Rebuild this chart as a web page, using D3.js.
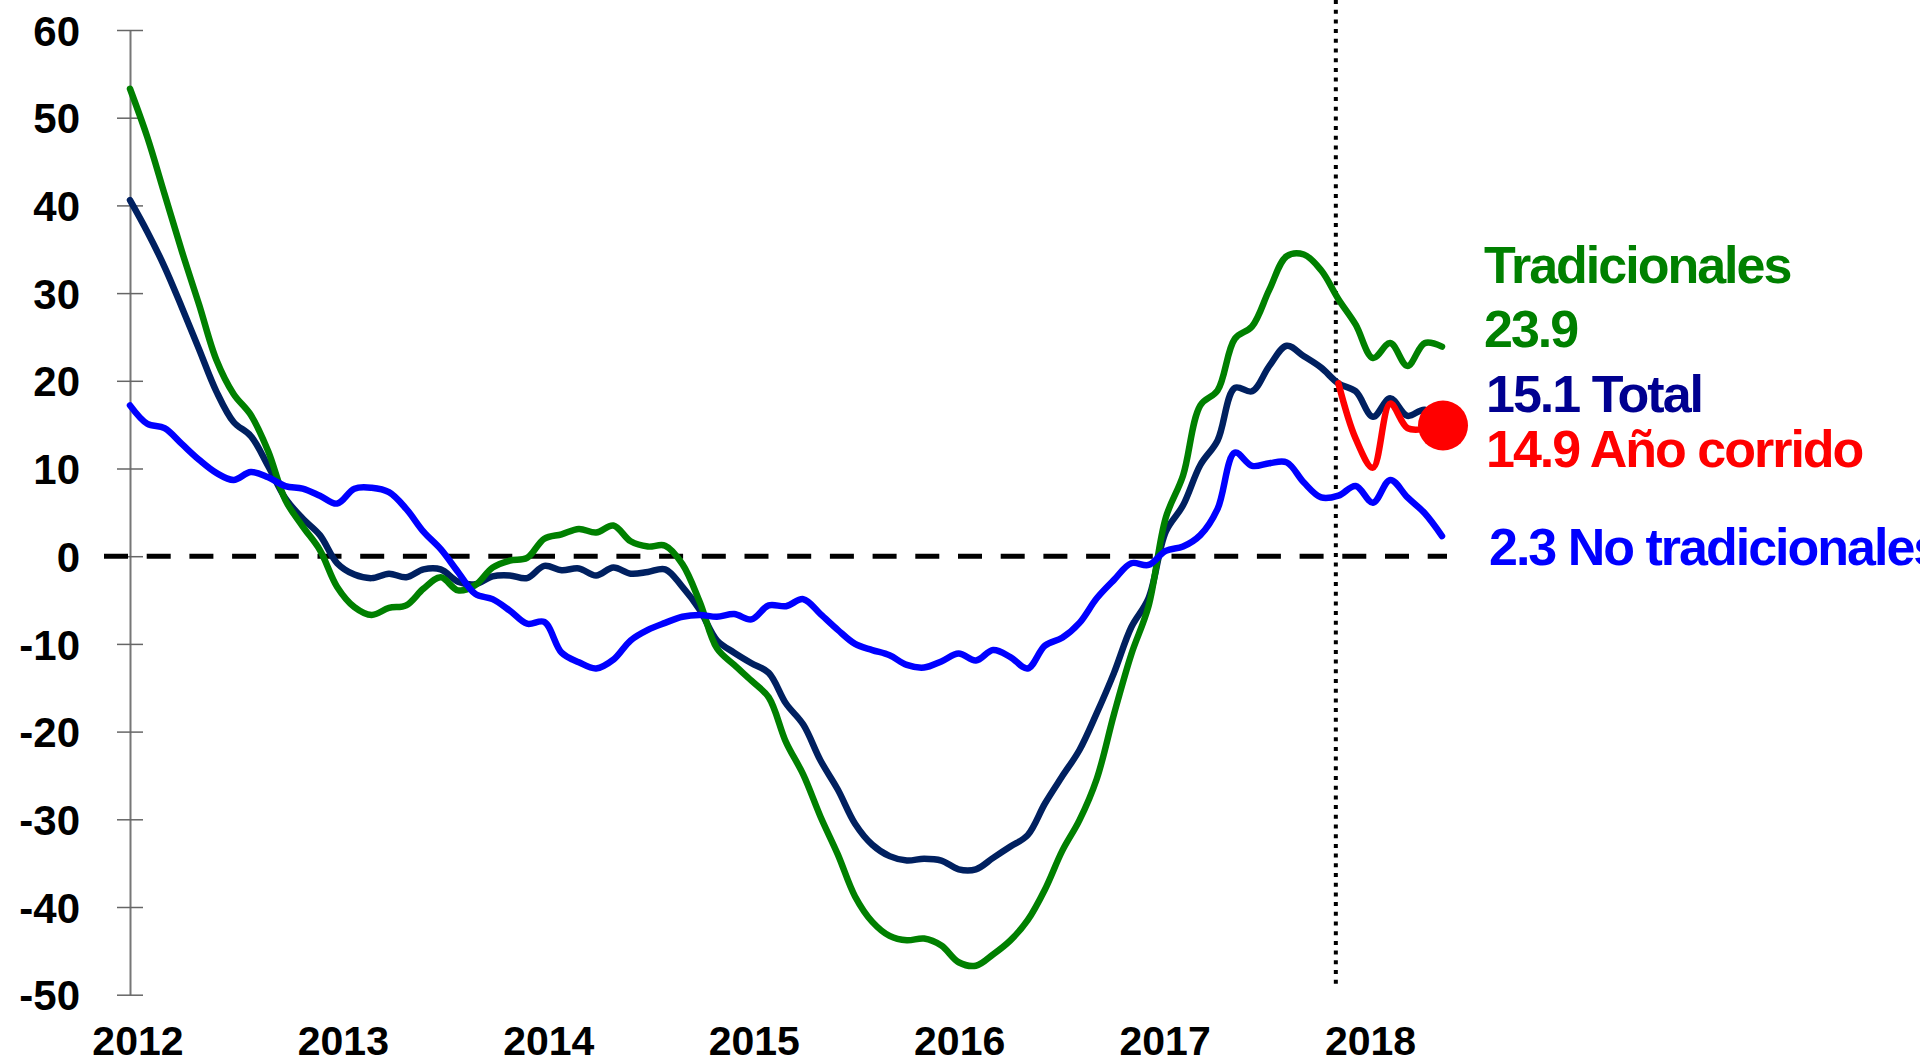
<!DOCTYPE html>
<html lang="es">
<head>
<meta charset="UTF-8">
<title>Exportaciones - variación anual</title>
<style>
    body {
        margin: 0;
        background: #fff;
    }
    svg text {
        font-family: "Liberation Sans", Arial, sans-serif;
        font-weight: bold;
    }
    .ytick text {
        font-size: 42px;
    }
    .year {
        font-size: 41px;
    }
    .lbl {
        font-size: 52px;
        letter-spacing: -2px;
    }
</style>
</head>
<body>
<svg id="chart" width="1920" height="1063"></svg>

<script src="https://d3js.org/d3.v7.min.js"></script>
<script>
// variacion anual (%) mensual, ene-2012 a may-2018
const tradicionales = [
    53.3, 47.8, 41.3, 34.8, 28.7, 22.4, 18.5, 16.1, 12.0, 6.4, 3.4, 0.7,
    -3.5, -5.8, -6.7, -5.9, -5.6, -3.7, -2.4, -3.9, -3.3, -1.3, -0.5, -0.2,
    2.0, 2.5, 3.1, 2.7, 3.5, 1.7, 1.1, 1.2, -0.9, -5.2, -10.5, -12.4,
    -14.2, -16.1, -21.2, -24.9, -29.7, -34.0, -38.8, -41.7, -43.3, -43.8, -43.6, -44.4,
    -46.3, -46.7, -45.4, -43.8, -41.5, -38.0, -33.6, -30.1, -25.4, -18.0, -11.2, -5.7,
    4.4, 9.2, 17.2, 18.9, 24.8, 26.2, 30.4, 34.2, 34.4, 32.6, 29.3, 26.4,
    22.6, 24.3, 21.7, 24.3, 23.9
];
const total = [
    40.6, 37.0, 33.0, 28.4, 23.6, 18.8, 15.3, 13.7, 10.3, 6.6, 4.3, 2.4,
    -0.8, -2.1, -2.5, -2.0, -2.4, -1.5, -1.5, -2.9, -3.2, -2.3, -2.2, -2.5,
    -1.1, -1.6, -1.4, -2.2, -1.3, -2.0, -1.8, -1.5, -3.5, -6.1, -9.6, -11.0,
    -12.2, -13.3, -16.8, -19.2, -23.3, -26.6, -30.5, -32.9, -34.2, -34.7, -34.5, -34.7,
    -35.7, -35.7, -34.4, -33.1, -31.8, -28.2, -25.1, -22.1, -17.9, -13.3, -8.1, -4.8,
    2.8, 5.8, 10.4, 13.2, 19.2, 18.8, 21.7, 24.0, 22.8, 21.5, 19.7, 18.8,
    15.9, 18.0, 16.0, 16.7, 15.1
];
const noTradicionales = [
    17.2, 15.1, 14.6, 12.8, 11.0, 9.5, 8.7, 9.6, 9.0, 8.0, 7.7, 6.9,
    6.0, 7.7, 7.8, 7.3, 5.4, 2.8, 0.8, -1.8, -4.3, -4.9, -6.2, -7.7,
    -7.5, -11.0, -12.1, -12.8, -11.8, -9.6, -8.4, -7.6, -6.9, -6.7, -6.9, -6.6,
    -7.2, -5.6, -5.7, -4.9, -6.6, -8.4, -10.0, -10.7, -11.3, -12.4, -12.7, -12.0,
    -11.1, -11.9, -10.7, -11.5, -12.8, -10.2, -9.3, -7.6, -4.8, -2.7, -0.8, -1.0,
    0.6, 1.1, 2.4, 5.4, 11.8, 10.3, 10.6, 10.7, 8.4, 6.7, 6.9, 8.0,
    6.1, 8.7, 6.7, 4.9, 2.3
];
// año corrido, desde nov-2017 (indice 70)
const anoCorridoStart = 70;
const anoCorrido = [19.7, 13.4, 10.1, 17.4, 14.6, 14.5, 14.9];

const years = ['2012', '2013', '2014', '2015', '2016', '2017', '2018'];
const yTicks = [60, 50, 40, 30, 20, 10, 0, -10, -20, -30, -40, -50];
const markerLine = 69.85;

const svg = d3.select('#chart');

const x = d3.scaleLinear().domain([0, tradicionales.length - 1]).range([130, 1442]);
const y = d3.scaleLinear().domain([-50, 60]).range([994.7, 30]);

// eje y
const yAxis = d3.axisLeft(y)
    .tickValues(yTicks)
    .tickSize(0)
    .tickPadding(50)
    .tickFormat(d => String(d));

const gy = svg.append('g')
    .attr('class', 'ytick')
    .attr('transform', 'translate(130,0)')
    .call(yAxis);
gy.select('.domain').attr('stroke', '#777').attr('stroke-width', 2);
gy.selectAll('.tick text').attr('fill', '#000').attr('dy', '0.36em');
gy.selectAll('.tick').append('line')
    .attr('x1', -13).attr('x2', 13)
    .attr('stroke', '#666').attr('stroke-width', 1.5);

// etiquetas de años
svg.append('g').selectAll('text')
    .data(years)
    .enter().append('text')
    .attr('class', 'year')
    .attr('x', (d, i) => x(i * 11.9 + 0.46))
    .attr('y', 1055)
    .attr('text-anchor', 'middle')
    .text(d => d);

// linea de cero
svg.append('line')
    .attr('x1', 104).attr('x2', 1447)
    .attr('y1', y(0)).attr('y2', y(0))
    .attr('stroke', '#000')
    .attr('stroke-width', 5)
    .attr('stroke-dasharray', '24,18.7');

// linea punteada vertical
svg.append('line')
    .attr('x1', x(markerLine)).attr('x2', x(markerLine))
    .attr('y1', 0).attr('y2', 989)
    .attr('stroke', '#000')
    .attr('stroke-width', 4)
    .attr('stroke-dasharray', '4,5.7');

const line = d3.line()
    .x(d => x(d[0]))
    .y(d => y(d[1]))
    .curve(d3.curveCatmullRom.alpha(0.5));

const series = [
    {values: total, color: '#002060', start: 0},
    {values: tradicionales, color: '#008000', start: 0},
    {values: noTradicionales, color: '#0000ff', start: 0},
    {values: anoCorrido, color: '#ff0000', start: anoCorridoStart}
];

svg.append('g').selectAll('path')
    .data(series)
    .enter().append('path')
    .attr('d', s => line(s.values.map((v, i) => [i + s.start, v])))
    .attr('fill', 'none')
    .attr('stroke', s => s.color)
    .attr('stroke-width', 6.5)
    .attr('stroke-linejoin', 'round')
    .attr('stroke-linecap', 'round');

// punto final año corrido
const lastIdx = anoCorridoStart + anoCorrido.length - 1;
svg.append('circle')
    .attr('cx', x(lastIdx) + 1)
    .attr('cy', y(anoCorrido[anoCorrido.length - 1]))
    .attr('r', 25)
    .attr('fill', '#ff0000');

// etiquetas a la derecha
const labels = [
    {text: 'Tradicionales', x: 1484, y: 283, color: '#008000'},
    {text: '23.9', x: 1484, y: 347, color: '#008000'},
    {text: '15.1 Total', x: 1486, y: 412, color: '#000090'},
    {text: '14.9 Año corrido', x: 1486, y: 467, color: '#ff0000'},
    {text: '2.3 No tradicionales', x: 1489, y: 565, color: '#0000ff'}
];

svg.append('g').selectAll('text')
    .data(labels)
    .enter().append('text')
    .attr('class', 'lbl')
    .attr('x', d => d.x)
    .attr('y', d => d.y)
    .attr('fill', d => d.color)
    .text(d => d.text);
</script>
</body>
</html>
